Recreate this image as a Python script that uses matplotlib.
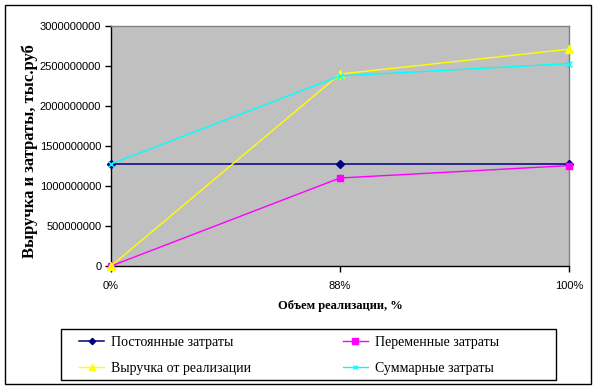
import matplotlib
matplotlib.use("Agg")
import matplotlib.pyplot as plt
from matplotlib.patches import Rectangle

categories = ["0%", "88%", "100%"]
fixed_costs = [1275000000, 1275000000, 1275000000]
variable_costs = [0, 1100000000, 1255000000]
revenue = [0, 2400000000, 2710000000]
total_costs = [1275000000, 2375000000, 2530000000]
series_names = ["Постоянные затраты", "Переменные затраты",
                "Выручка от реализации", "Суммарные затраты"]
y_ticks = [0, 500000000, 1000000000, 1500000000, 2000000000, 2500000000, 3000000000]

W, H = 602, 389
fig = plt.figure(figsize=(W / 100, H / 100), dpi=100)
fig.patch.set_facecolor("white")

def fx(px):
    return px / W

def fy(py):
    return 1 - py / H

ax = fig.add_axes([fx(111), fy(266), fx(569) - fx(111), fy(26) - fy(266)])
ax.set_facecolor("#C0C0C0")

x = list(range(len(categories)))
ax.plot(x, fixed_costs, color="#000080", lw=1.1, marker="D", ms=4, mfc="#000080", mec="#000080",
        label=series_names[0], clip_on=False, zorder=3)
ax.plot(x, variable_costs, color="#FF00FF", lw=1.0, marker="s", ms=5, mfc="#FF00FF", mec="#FF00FF",
        label=series_names[1], clip_on=False, zorder=3)
ax.plot(x, revenue, color="#FFFF00", lw=1.0, marker="^", ms=6, mfc="#FFFF00", mec="#FFFF00",
        label=series_names[2], clip_on=False, zorder=3)
ax.plot(x, total_costs, color="#00FFFF", lw=1.0, marker="x", ms=4, mew=1, mfc="#00FFFF", mec="#00FFFF",
        label=series_names[3], clip_on=False, zorder=3)

ax.set_xlim(0, len(categories) - 1)
ax.set_ylim(0, 3000000000)
ax.set_xticks(x)
ax.set_xticklabels(categories, fontfamily="Liberation Sans", fontsize=8)
ax.set_yticks(y_ticks)
ax.set_yticklabels([str(v) for v in y_ticks], fontfamily="Liberation Sans", fontsize=8)
ax.tick_params(axis="both", direction="out", length=4, width=1, color="black", pad=3)
ax.tick_params(axis="x", pad=7)

for side in ["top", "right"]:
    ax.spines[side].set_color("#808080")
    ax.spines[side].set_linewidth(1)
for side in ["left", "bottom"]:
    ax.spines[side].set_color("black")
    ax.spines[side].set_linewidth(1)

# axis titles
fig.text(fx(340), fy(306), "Объем реализации, %", ha="center", va="center",
         fontfamily="Liberation Serif", fontweight="bold", fontsize=9)
ylab = fig.text(fx(30), fy(258), "Выручка и затраты, тыс.руб", ha="center", va="bottom",
                rotation=90, fontfamily="Liberation Serif", fontweight="bold", fontsize=12)

# outer chart frame
frame = Rectangle((fx(5), fy(384)), fx(591) - fx(5), fy(5) - fy(384), transform=fig.transFigure,
                  fill=False, edgecolor="black", lw=1)
fig.add_artist(frame)
ylab.set_clip_path(frame)

# legend (row-major order like the original)
legend_box = Rectangle((fx(61), fy(380)), fx(556) - fx(61), fy(329) - fy(380), transform=fig.transFigure,
                       fill=False, edgecolor="black", lw=1)
fig.add_artist(legend_box)
handles, labels = ax.get_legend_handles_labels()
order = [0, 2, 1, 3]
leg = fig.legend([handles[i] for i in order], [labels[i] for i in order],
                 loc="upper left", bbox_to_anchor=(fx(79), fy(336)), ncol=2, frameon=False,
                 prop={"family": "Liberation Serif", "size": 10},
                 handlelength=1.8, handletextpad=0.5, columnspacing=6.6,
                 labelspacing=0.95, borderaxespad=0, borderpad=0, markerscale=0.8)

fig.savefig("out.png", dpi=100, facecolor="white")
